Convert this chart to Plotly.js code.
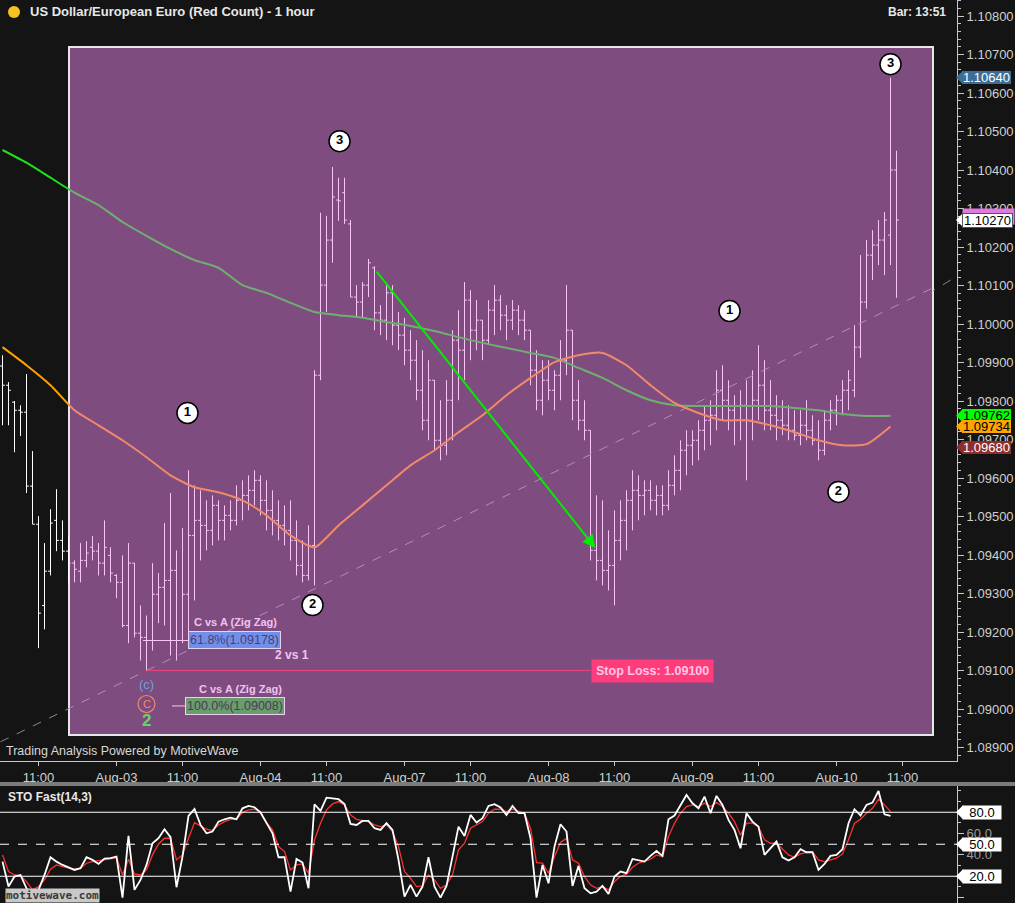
<!DOCTYPE html>
<html><head><meta charset="utf-8">
<script src="https://cdn.plot.ly/plotly-3.0.1.min.js"></script>
<style>html,body{margin:0;padding:0;background:#141414;overflow:hidden}#chart{width:1015px;height:903px}</style>
</head><body><div id="chart"></div><script>
// ---------- data ----------
const firstBar = -19; // hourly bar index relative to Aug-03 00:00
const opens = [1.09891,1.09841,1.09797,1.09776,1.09771,1.09579,1.09480,1.09269,1.09358,1.09490,
1.09438,1.09410,1.09379,1.09358,1.09386,1.09420,1.09410,1.09379,1.09399,1.09347,
1.09329,1.09217,1.09379,1.09197,1.09186,1.09178,1.09298,1.09316,1.09334,1.09360,
1.09178,1.09298,1.09451,1.09490,1.09477,1.09464,1.09529,1.09490,1.09503,1.09490,
1.09542,1.09555,1.09568,1.09594,1.09542,1.09516,1.09490,1.09477,1.09464,1.09438,
1.09373,1.09347,1.09425,1.09867,1.10101,1.10218,1.10322,1.10341,1.10260,1.10070,
1.10057,1.10101,1.10146,1.10029,1.10010,1.10081,1.09997,1.09971,1.09932,1.09906,
1.09828,1.09750,1.09854,1.09698,1.09685,1.09802,1.09958,1.09932,1.10062,1.09984,
1.10010,1.09958,1.10036,1.10062,1.10023,1.10010,1.10036,1.10010,1.09984,1.09880,
1.09802,1.09854,1.09828,1.09867,1.09906,1.09984,1.09802,1.09750,1.09724,1.09412,
1.09386,1.09360,1.09373,1.09438,1.09490,1.09542,1.09568,1.09555,1.09568,1.09542,
1.09555,1.09529,1.09581,1.09620,1.09672,1.09685,1.09698,1.09724,1.09750,1.09763,
1.09828,1.09802,1.09776,1.09750,1.09789,1.09750,1.09802,1.09841,1.09776,1.09763,
1.09750,1.09737,1.09724,1.09711,1.09737,1.09724,1.09698,1.09672,1.09750,1.09776,
1.09802,1.09828,1.09828,1.09940,1.10057,1.10179,1.10205,1.10218,1.10231,1.10400];
const highs = [1.09919,1.09849,1.09800,1.09789,1.09870,1.09670,1.09501,1.09431,1.09519,1.09571,
1.09490,1.09449,1.09386,1.09431,1.09436,1.09449,1.09431,1.09490,1.09420,1.09350,
1.09399,1.09431,1.09379,1.09269,1.09243,1.09379,1.09353,1.09483,1.09561,1.09412,
1.09470,1.09620,1.09581,1.09568,1.09542,1.09555,1.09542,1.09529,1.09542,1.09581,
1.09594,1.09607,1.09620,1.09607,1.09594,1.09568,1.09542,1.09529,1.09542,1.09490,
1.09438,1.09477,1.09880,1.10289,1.10281,1.10408,1.10380,1.10380,1.10270,1.10101,
1.10109,1.10169,1.10150,1.10049,1.10101,1.10101,1.10031,1.10016,1.09984,1.09958,
1.09932,1.09906,1.09854,1.09802,1.09854,1.09984,1.10036,1.10109,1.10088,1.10062,
1.10010,1.10062,1.10101,1.10075,1.10049,1.10062,1.10049,1.10036,1.09984,1.09932,
1.09906,1.09906,1.09880,1.09958,1.10101,1.09984,1.09854,1.09802,1.09724,1.09555,
1.09542,1.09464,1.09516,1.09542,1.09568,1.09620,1.09607,1.09594,1.09594,1.09581,
1.09581,1.09620,1.09659,1.09698,1.09724,1.09724,1.09750,1.09789,1.09802,1.09880,
1.09893,1.09854,1.09815,1.09828,1.09854,1.09880,1.09945,1.09906,1.09854,1.09815,
1.09802,1.09789,1.09776,1.09776,1.09802,1.09763,1.09750,1.09776,1.09802,1.09815,
1.09854,1.09880,1.09997,1.10179,1.10218,1.10244,1.10270,1.10291,1.10640,1.10450];
const lows = [1.09737,1.09737,1.09667,1.09709,1.09561,1.09480,1.09158,1.09207,1.09347,1.09410,
1.09386,1.09327,1.09329,1.09329,1.09368,1.09386,1.09347,1.09347,1.09329,1.09288,
1.09212,1.09171,1.09186,1.09126,1.09100,1.09152,1.09223,1.09217,1.09139,1.09126,
1.09171,1.09171,1.09282,1.09386,1.09412,1.09425,1.09438,1.09438,1.09464,1.09477,
1.09490,1.09516,1.09529,1.09503,1.09464,1.09451,1.09438,1.09425,1.09386,1.09347,
1.09329,1.09334,1.09321,1.09854,1.10031,1.10159,1.10268,1.10260,1.10070,1.10018,
1.10018,1.10070,1.09984,1.09971,1.09958,1.09945,1.09932,1.09893,1.09854,1.09802,
1.09724,1.09698,1.09672,1.09646,1.09659,1.09698,1.09802,1.09854,1.09906,1.09932,
1.09906,1.09945,1.09971,1.09984,1.09958,1.09984,1.09971,1.09958,1.09841,1.09776,
1.09763,1.09802,1.09776,1.09802,1.09867,1.09750,1.09724,1.09698,1.09386,1.09334,
1.09321,1.09308,1.09269,1.09386,1.09412,1.09464,1.09490,1.09503,1.09516,1.09503,
1.09503,1.09516,1.09555,1.09568,1.09607,1.09633,1.09646,1.09672,1.09685,1.09724,
1.09750,1.09724,1.09685,1.09698,1.09594,1.09698,1.09750,1.09724,1.09724,1.09698,
1.09711,1.09698,1.09698,1.09685,1.09698,1.09685,1.09646,1.09659,1.09724,1.09737,
1.09763,1.09776,1.09810,1.09912,1.10040,1.10114,1.10153,1.10127,1.10153,1.10068];
const closes = [1.09841,1.09828,1.09776,1.09771,1.09579,1.09480,1.09249,1.09358,1.09483,1.09438,
1.09410,1.09379,1.09363,1.09386,1.09405,1.09410,1.09379,1.09420,1.09353,1.09329,
1.09217,1.09379,1.09197,1.09186,1.09178,1.09298,1.09316,1.09334,1.09360,1.09178,
1.09298,1.09451,1.09490,1.09477,1.09464,1.09529,1.09490,1.09503,1.09490,1.09542,
1.09555,1.09568,1.09594,1.09542,1.09516,1.09490,1.09477,1.09464,1.09438,1.09373,
1.09347,1.09425,1.09867,1.10101,1.10218,1.10330,1.10320,1.10270,1.10070,1.10057,
1.10101,1.10159,1.10029,1.10010,1.10081,1.09997,1.09971,1.09932,1.09906,1.09828,
1.09750,1.09854,1.09698,1.09685,1.09802,1.09958,1.09932,1.10062,1.09984,1.10010,
1.09958,1.10036,1.10062,1.10023,1.10010,1.10036,1.10010,1.09984,1.09880,1.09802,
1.09854,1.09828,1.09867,1.09906,1.09984,1.09802,1.09750,1.09724,1.09412,1.09386,
1.09360,1.09373,1.09438,1.09490,1.09542,1.09568,1.09555,1.09568,1.09542,1.09555,
1.09529,1.09581,1.09620,1.09672,1.09685,1.09698,1.09724,1.09750,1.09763,1.09828,
1.09802,1.09776,1.09750,1.09789,1.09750,1.09802,1.09841,1.09776,1.09763,1.09750,
1.09737,1.09724,1.09711,1.09737,1.09724,1.09698,1.09672,1.09750,1.09776,1.09802,
1.09828,1.09854,1.09940,1.10057,1.10179,1.10205,1.10218,1.10270,1.10400,1.10270];

const tickPos = [-13,0,11,24,35,48,59,72,83,96,107,120,131];
const tickLabels = ['11:00','Aug-03','11:00','Aug-04','11:00','Aug-07','11:00','Aug-08','11:00','Aug-09','11:00','Aug-10','11:00'];

const maX = [-19,-15,-11,-7,-3,1,5,9,13,17,21,25,29,33,37,41,45,49,53,57,61,65,69,73,77,81,85,89,93,97,101,105,109,113,117,121,125,129];
const maSlow = [1.10452,1.10419,1.10380,1.10341,1.10309,1.10265,1.10229,1.10195,1.10166,1.10146,1.10101,1.10081,1.10055,1.10031,1.10023,1.10016,1.10005,1.09995,1.09982,1.09966,1.09951,1.09938,1.09925,1.09912,1.09886,1.09860,1.09828,1.09802,1.09789,1.09787,1.09787,1.09787,1.09787,1.09782,1.09776,1.09766,1.09761,1.09762];
const maFast = [1.09940,1.09893,1.09841,1.09776,1.09737,1.09698,1.09654,1.09607,1.09576,1.09563,1.09542,1.09503,1.09451,1.09420,1.09477,1.09529,1.09581,1.09633,1.09672,1.09719,1.09763,1.09815,1.09860,1.09901,1.09919,1.09925,1.09893,1.09841,1.09795,1.09769,1.09750,1.09750,1.09737,1.09719,1.09698,1.09685,1.09688,1.09734];

const stoK = [33.7,10.3,19.7,21.2,8.7,2.5,7.2,21.2,37.8,33.7,
30.6,28.4,25.9,27.5,37.8,35.3,31.5,36.5,36.9,38.4,
0,57.8,7.2,16.5,30.6,50.9,55.6,64.1,56.6,9.7,
38.4,76.5,83.1,68.1,60.3,61.9,71.2,73.4,75.0,73.4,
83.7,85.9,84.7,79.7,69.7,60.3,37.8,37.8,5.6,36.2,
32.8,8.7,87.5,81.2,93.7,93.1,92.2,87.8,69.1,68.1,
71.9,71.9,65.0,63.4,69.7,63.4,35.3,0.9,11.9,0.9,
10.3,37.8,10.3,0,10.9,38.4,66.5,57.8,77.5,70.3,
74.4,85.9,87.5,84.4,77.5,85.9,79.1,79.1,55.6,0,
30.6,13.4,47.8,68.7,61.9,10.9,29.7,8.7,4.0,5.6,
10.9,3.4,19.7,24.4,22.8,36.2,35.3,33.7,39.1,43.7,
39.1,73.4,76.9,86.9,96.2,88.4,83.7,94.7,79.1,95.3,
86.9,72.8,63.4,46.2,79.1,71.2,66.5,40.0,46.2,52.5,
37.8,34.7,37.8,45.3,42.5,42.5,25.9,31.5,39.1,40.0,
45.3,69.7,82.8,76.9,86.9,89.0,100,78.1,76.6];
const stoD = [40.0,24.4,21.2,20.3,15.0,7.2,10.3,16.5,26.6,30.6,
29.1,27.5,26.6,27.5,32.2,33.7,34.4,35.3,36.2,37.5,
21.2,35.9,22.2,21.2,25.9,40.0,50.3,55.6,55.6,35.3,
40.0,55.6,70.3,67.2,64.1,62.8,68.1,71.2,73.4,73.4,
79.7,82.2,82.8,80.6,70.3,63.4,47.8,43.1,25.9,30.6,
31.5,22.8,54.1,69.7,82.2,87.8,90.0,86.9,77.5,73.4,
72.2,71.2,68.1,66.5,68.1,61.9,47.8,24.4,18.1,10.3,
10.9,21.2,16.5,8.7,11.9,21.2,44.7,50.9,65.0,68.1,
71.2,79.1,82.8,82.8,80.6,82.8,80.6,79.1,65.0,32.8,
32.2,22.8,38.4,51.6,55.6,35.3,32.2,19.7,11.9,8.7,
10.3,7.2,15.0,19.7,21.9,28.4,32.2,33.7,35.9,40.0,
38.4,57.2,69.7,79.1,85.3,86.9,85.3,88.4,85.3,89.0,
85.3,79.1,71.2,58.7,69.7,69.7,66.5,54.1,50.9,50.9,
45.3,40.0,37.8,40.9,42.2,43.1,35.3,33.7,35.3,36.9,
40.9,54.1,69.7,73.4,79.1,83.7,92.2,86.9,80.6];
const stoLevels = [80, 50, 20];

const trendX = [-19.33, 140.17];
const trendY = [1.08915, 1.10125];
const arrowFrom = [43.17, 1.10140];
const arrowTo = [79.83, 1.09418];
const waveX = [11.83, 37.17, 32.67, 102.17, 120.33, 129];
const waveY = [1.09769, 1.10475, 1.09270, 1.10034, 1.09564, 1.10675];
const waveLabels = ['1','3','2','1','2','3'];
const stopLoss = 1.09100, stopFrom = 5, stopTo = 79, stopLabelX = 89.25;
const fib618 = 1.09178, fib100 = 1.09008;
const tagValues = [1.10640, 1.10270, 1.09762, 1.09734, 1.09680];
const tagBg = ['#3c6e98','#ffffff','#00ff00','#ffa500','#8e2e2e'];
const tagFg = ['#ffffff','#000000','#000000','#000000','#ffffff'];

// ---------- geometry helpers (pixel layout of the 1015x903 canvas) ----------
const W = 1015, H = 903;
const px = v => v / W, py = v => 1 - v / H;
const axisX = 957, boxL = 69, boxR = 933, boxT = 47, boxB = 735;
const mainBottom = 761, stoTop = 786;
const barPx = 6, zeroPx = 116.5;
const idx = p => (p - zeroPx) / barPx;
const yRange = [1.08865, 1.108416];
const y2Range = [-5.1, 104.6];

const xs = opens.map((_, k) => k + firstBar);
const sx = stoK.map((_, k) => k + firstBar);

const FONT = 'Liberation Sans, Arial, sans-serif';
const pink = '#fcc4f6';

function ohlc(xa, color) {
  return {type:'ohlc', x: xs, open: opens, high: highs, low: lows, close: closes,
    xaxis: xa, yaxis: 'y', tickwidth: 0.4, hoverinfo: 'skip', showlegend: false,
    increasing: {line: {color: color, width: 1}}, decreasing: {line: {color: color, width: 1}}};
}
function line(x, y, xa, color, width, dash) {
  return {type:'scatter', mode:'lines', x: x, y: y, xaxis: xa, yaxis: 'y', hoverinfo:'skip', showlegend:false,
    line: {color: color, width: width, dash: dash || 'solid', shape: 'spline', smoothing: 0.6}};
}

const traces = [
  line(trendX, trendY, 'x3', '#8a8a8a', 1, 'dash'),
  line(trendX, trendY, 'x5', '#8a8a8a', 1, 'dash'),
  line(trendX, trendY, 'x4', '#b48cc0', 1, 'dash'),
  line(maX, maSlow, 'x3', '#1ee01e', 2),
  line(maX, maFast, 'x3', '#ffa000', 2),
  line(maX, maSlow, 'x4', '#6fb06f', 2),
  line(maX, maFast, 'x4', '#f08a6a', 2),
  ohlc('x3', '#ffffff'),
  ohlc('x4', pink),
  {type:'scatter', mode:'markers+text', x: waveX, y: waveY, text: waveLabels, xaxis:'x', yaxis:'y',
    hoverinfo:'skip', showlegend:false, cliponaxis:false,
    marker:{size:21, color:'#ffffff', line:{color:'#000000', width:1.5}},
    textposition:'middle center', textfont:{family:FONT, size:13, color:'#000000', weight:'bold'}},
  {type:'scatter', mode:'lines', x: sx, y: stoD, xaxis:'x2', yaxis:'y2', hoverinfo:'skip', showlegend:false,
    line:{color:'#ff3030', width:1.3}},
  {type:'scatter', mode:'lines', x: sx, y: stoK, xaxis:'x2', yaxis:'y2', hoverinfo:'skip', showlegend:false,
    line:{color:'#ffffff', width:1.8}}
];

// circled C below the wave-C low
traces.push({type:'scatter', mode:'markers', x:[5], y:[1.09013], xaxis:'x', yaxis:'y', hoverinfo:'skip', showlegend:false,
  marker:{symbol:'circle-open', size:17, color:'#f08a6a', line:{width:1.2}}});

const shapes = [
  {type:'rect', xref:'paper', yref:'paper', x0:px(boxL), x1:px(boxR), y0:py(boxB), y1:py(boxT),
    fillcolor:'#7f4c80', line:{color:'#e6e6e6', width:2}, layer:'below'},
  {type:'rect', xref:'paper', yref:'paper', x0:0, x1:1, y0:py(786), y1:py(782), fillcolor:'#7c7c7c', line:{width:0}},
  {type:'circle', xref:'paper', yref:'paper', x0:px(8), x1:px(20), y0:py(18), y1:py(6), fillcolor:'#f6c21f', line:{width:0}},
  {type:'line', xref:'x', yref:'y', x0:stopFrom, x1:stopTo, y0:stopLoss, y1:stopLoss, line:{color:'#e8467e', width:1}},
  {type:'line', xref:'x', yref:'y', x0:idx(143), x1:idx(188), y0:fib618, y1:fib618, line:{color:pink, width:1}},
  {type:'line', xref:'x', yref:'y', x0:idx(172), x1:idx(186), y0:fib100, y1:fib100, line:{color:pink, width:1}}
];
stoLevels.forEach(v => shapes.push({type:'line', xref:'paper', yref:'y2', x0:0, x1:px(axisX), y0:v, y1:v,
  line:{color:'#ffffff', width:1.2, dash: v === 50 ? 'dash' : 'solid'}}));

const annotations = [];
function txt(x, y, text, opts) {
  annotations.push(Object.assign({xref:'paper', yref:'paper', x:x, y:y, text:text, showarrow:false,
    xanchor:'left', yanchor:'middle', font:{family:FONT, size:12, color:'#e6e6e6'}}, opts || {}));
}
txt(px(28), py(12), '<b>US Dollar/European Euro (Red Count) - 1 hour</b>', {font:{family:FONT, size:13, color:'#e8e8e8'}});
txt(px(948), py(12), '<b>Bar: 13:51</b>', {xanchor:'right', font:{family:FONT, size:12, color:'#e8e8e8'}});
txt(px(4), py(751), 'Trading Analysis Powered by MotiveWave', {font:{family:FONT, size:12.5, color:'#d8d8d8'}});
txt(px(6), py(797), '<b>STO Fast(14,3)</b>', {font:{family:FONT, size:12, color:'#e8e8e8'}});
txt(px(5), py(895.5), '<b>motivewave.com</b>', {bgcolor:'#c8c8c8', borderpad:0,
  font:{family:'DejaVu Sans Mono, monospace', size:11, color:'#3a3a3a'}});

// zig-zag annotations (data coordinates)
function dtxt(x, y, text, opts) {
  annotations.push(Object.assign({xref:'x', yref:'y', x:x, y:y, text:text, showarrow:false,
    xanchor:'center', yanchor:'middle', font:{family:FONT, size:11, color:'#f2c2f2'}}, opts || {}));
}
dtxt(idx(235), 1.09226, '<b>C vs A (Zig Zag)</b>');
dtxt(idx(234), fib618, '61.8%(1.09178)', {bgcolor:'#7090e8', bordercolor:'#e8d0f0', borderwidth:1, borderpad:1,
  font:{family:FONT, size:12.5, color:'#4b3c7e'}});
dtxt(idx(292), 1.09140, '<b>2 vs 1</b>', {font:{family:FONT, size:12, color:'#f2c2f2'}});
dtxt(idx(240), 1.09052, '<b>C vs A (Zig Zag)</b>');
dtxt(idx(235), fib100, '100.0%(1.09008)', {bgcolor:'#6b9c6b', bordercolor:'#e8d0f0', borderwidth:1, borderpad:1,
  font:{family:FONT, size:12.5, color:'#4a3a5a'}});
dtxt(5, 1.09065, '(c)', {font:{family:FONT, size:13, color:'#6ea0dc'}});
dtxt(5, 1.09013, 'C', {font:{family:FONT, size:11, color:'#f08a6a'}});
dtxt(5, 1.08971, '<b>2</b>', {font:{family:FONT, size:17, color:'#6fd06f'}});
dtxt(stopLabelX, stopLoss, '<b>Stop Loss: 1.09100</b>', {bgcolor:'#ff3d7a', borderpad:4,
  font:{family:FONT, size:12.5, color:'#ffc8e8'}});

// projection arrow
annotations.push({xref:'x', yref:'y', axref:'x', ayref:'y', x:arrowTo[0], y:arrowTo[1], ax:arrowFrom[0], ay:arrowFrom[1],
  text:'', showarrow:true, arrowhead:2, arrowsize:1.3, arrowwidth:2, arrowcolor:'#00ee00'});

// price tags on the right axis
const dP = 7 / 38500;
tagValues.forEach((v, i) => {
  if (i === 1) {
    annotations.push({xref:'paper', yref:'y', x:px(962), y:v + 4/38500, text:'', showarrow:false, xanchor:'left',
      yanchor:'middle', bgcolor:'#e07ae0', width:49, height:13});
  }
  annotations.push({xref:'paper', yref:'y', x:px(962), y:v, text:v.toFixed(5), showarrow:false,
    xanchor:'left', yanchor:'middle', bgcolor:tagBg[i], bordercolor:'#555', borderwidth: i===1?1:0, borderpad:0,
    width:49, height:13, font:{family:FONT, size:13, color:tagFg[i]}});
  shapes.push({type:'path', xref:'paper', yref:'y', fillcolor:tagBg[i], line:{width:0},
    path:`M ${px(956)},${v} L ${px(963)},${v + dP} L ${px(963)},${v - dP} Z`});
});
const dS = 7 / 1.0666;
stoLevels.forEach(v => {
  annotations.push({xref:'paper', yref:'y2', x:px(962), y:v, text:v.toFixed(1), showarrow:false,
    xanchor:'left', yanchor:'middle', bgcolor:'#ffffff', borderpad:0, width:38, height:13,
    font:{family:FONT, size:13, color:'#000000'}});
  shapes.push({type:'path', xref:'paper', yref:'y2', fillcolor:'#ffffff', line:{width:0},
    path:`M ${px(956)},${v} L ${px(963)},${v + dS} L ${px(963)},${v - dS} Z`});
});

const xMainRange = [idx(0), idx(axisX)];
const hidden = {visible:false, rangeslider:{visible:false}, fixedrange:true, showgrid:false, zeroline:false};
const layout = {
  width: W, height: H, autosize:false, margin:{l:0, r:0, t:0, b:0},
  paper_bgcolor:'#141414', plot_bgcolor:'rgba(0,0,0,0)', showlegend:false, hovermode:false,
  font:{family:FONT, color:'#d0d0d0'},
  xaxis:{domain:[0, px(axisX)], range:xMainRange, anchor:'y', tickmode:'array', tickvals:tickPos, ticktext:tickLabels,
    ticks:'outside', ticklen:4, tickcolor:'#c8c8c8', showline:true, linecolor:'#c8c8c8', linewidth:1,
    showgrid:false, zeroline:false, rangeslider:{visible:false}, tickfont:{family:FONT, size:13, color:'#d0d0d0'}},
  xaxis2:Object.assign({}, hidden, {domain:[0, px(axisX)], range:xMainRange, anchor:'y2'}),
  xaxis3:Object.assign({}, hidden, {domain:[0, px(boxL)], range:[idx(0), idx(boxL)], anchor:'y'}),
  xaxis4:Object.assign({}, hidden, {domain:[px(boxL), px(boxR)], range:[idx(boxL), idx(boxR)], anchor:'y'}),
  xaxis5:Object.assign({}, hidden, {domain:[px(boxR), px(axisX)], range:[idx(boxR), idx(axisX)], anchor:'y'}),
  yaxis:{domain:[py(mainBottom), 1], range:yRange, anchor:'x', side:'right', dtick:0.001, tick0:1.1, tickformat:'.5f',
    ticks:'outside', ticklen:6, tickcolor:'#c8c8c8', showline:true, linecolor:'#c8c8c8', showgrid:false, zeroline:false,
    minor:{dtick:0.0002, ticks:'outside', ticklen:3, tickcolor:'#c8c8c8', showgrid:false},
    tickfont:{family:FONT, size:13, color:'#d0d0d0'}, fixedrange:true},
  yaxis2:{domain:[0, py(stoTop)], range:y2Range, anchor:'x2', side:'right', tickmode:'array',
    tickvals:[0,20,40,60,80], ticktext:['0.0','','40.0','60.0',''],
    ticks:'outside', ticklen:6, tickcolor:'#c8c8c8', showline:true, linecolor:'#c8c8c8', showgrid:false, zeroline:false,
    minor:{tickvals:[10,30,50,70,90,100], ticks:'outside', ticklen:3, tickcolor:'#c8c8c8'},
    tickfont:{family:FONT, size:13, color:'#9a9a9a'}, fixedrange:true},
  shapes: shapes, annotations: annotations
};
Plotly.newPlot('chart', traces, layout, {staticPlot:true, displayModeBar:false});
</script></body></html>
